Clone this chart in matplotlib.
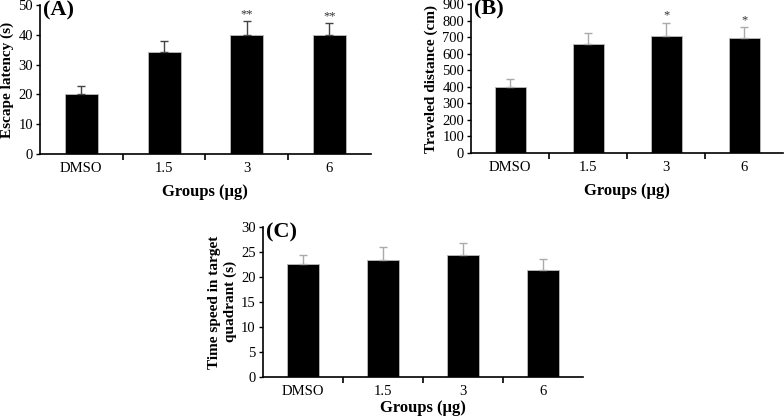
import matplotlib.pyplot as plt

plt.rcParams['font.family'] = ['Liberation Serif', 'DejaVu Serif']

groups = ["DMSO", "1.5", "3", "6"]

# (A) escape latency
latency = [20.0, 34.3, 39.8, 39.8]
latency_err = [2.7, 3.7, 4.7, 4.1]
latency_sig = ["", "", "**", "**"]

# (B) traveled distance
distance = [397, 658, 707, 693]
distance_err = [52, 65, 82, 66]
distance_sig = ["", "", "*", "*"]

# (C) time in target quadrant
quadrant = [22.6, 23.3, 24.3, 21.3]
quadrant_err = [1.8, 2.6, 2.4, 2.3]
quadrant_sig = ["", "", "", ""]


def panel(ax, vals, errs, sig, ymax, ystep, ylabel, tag, ecolor, xpad=6):
    x = list(range(len(groups)))
    ax.bar(x, vals, width=0.4, color="black", edgecolor="#bbbbbb", linewidth=0.6)
    ax.errorbar(x, vals, yerr=[[0] * len(errs), errs], fmt="none",
                ecolor=ecolor, elinewidth=1.0, capsize=3, capthick=1.0)
    for i, s in enumerate(sig):
        if s:
            ax.text(i, vals[i] + errs[i] + ymax * 0.005, s, ha="center", va="bottom",
                    fontsize=9, color="#333333")
    ax.set_xlim(-0.5, len(groups) - 0.5)
    ax.set_ylim(0, ymax)
    ax.set_yticks(range(0, ymax + 1, ystep))
    ax.set_xticks(x)
    ax.set_xticklabels(groups)
    ax.set_xticks([0.5, 1.5, 2.5], minor=True)
    ax.tick_params(axis="x", which="major", length=0, labelsize=10.5, pad=6)
    ax.tick_params(axis="x", which="minor", length=4, width=1.2, direction="out")
    ax.tick_params(axis="y", length=3, width=1, labelsize=10.5, pad=2)
    for sp in ["top", "right"]:
        ax.spines[sp].set_visible(False)
    ax.spines["left"].set_linewidth(1.2)
    ax.spines["bottom"].set_linewidth(1.2)
    ax.set_xlabel("Groups (µg)", fontsize=12, fontweight="bold", labelpad=xpad)
    ax.set_ylabel(ylabel, fontsize=11, fontweight="bold", labelpad=3)
    ax.text(0.01, 0.965, tag, transform=ax.transAxes, ha="left", va="center",
            fontsize=16, fontweight="bold")


fig = plt.figure(figsize=(7.84, 4.17), dpi=100)
ax1 = fig.add_axes([0.051, 0.631, 0.422, 0.357])
ax2 = fig.add_axes([0.601, 0.633, 0.398, 0.357])
ax3 = fig.add_axes([0.335, 0.096, 0.408, 0.36])

panel(ax1, latency, latency_err, latency_sig, 50, 10, "Escape latency (s)", "(A)", "#444444")
panel(ax2, distance, distance_err, distance_sig, 900, 100, "Traveled distance (cm)", "(B)", "#aaaaaa")
panel(ax3, quadrant, quadrant_err, quadrant_sig, 30, 5,
      "Time speed in target\nquadrant (s)", "(C)", "#aaaaaa", xpad=1)

fig.savefig("out.png", dpi=100)
